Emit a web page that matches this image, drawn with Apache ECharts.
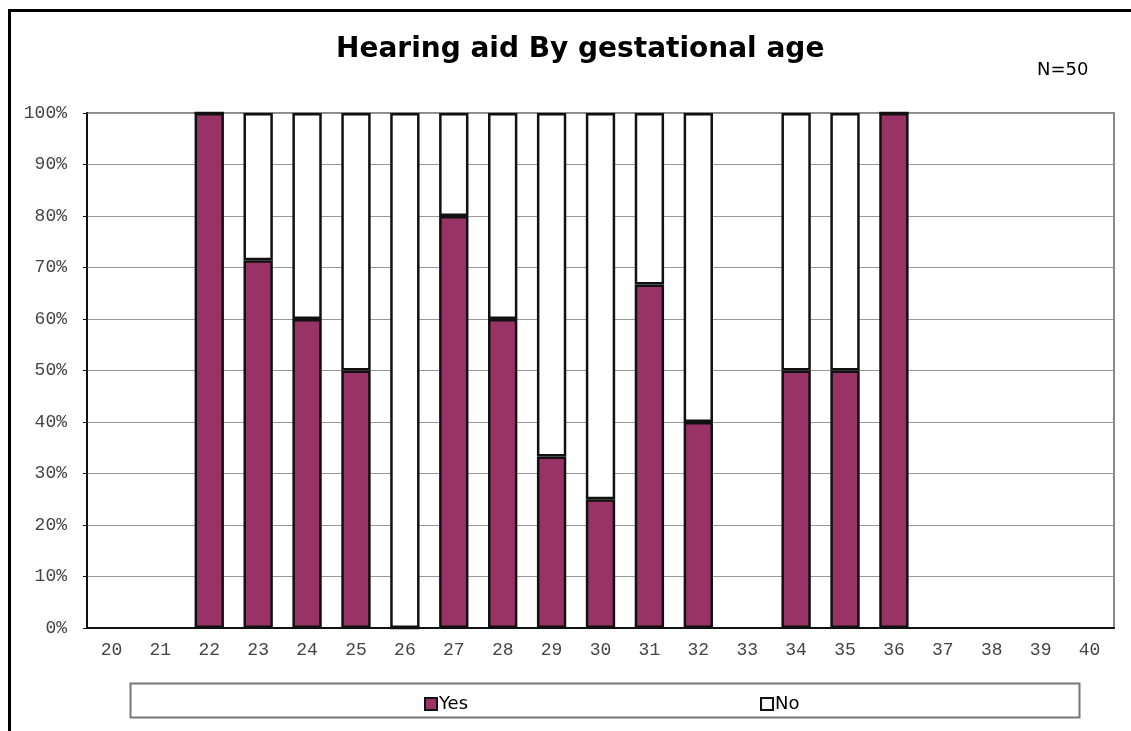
<!DOCTYPE html>
<html>
<head>
    <meta charset="utf-8" />
    <script src="https://cdn.jsdelivr.net/npm/echarts@6/dist/echarts.min.js"></script>
    <style>
        html, body { margin: 0; padding: 0; background: #fff; }
        #chart { width: 1131px; height: 731px; }
    </style>
</head>
<body>
<div id="chart"></div>
<script type="text/javascript">
    // gestational age (weeks)
    var weeks = ['20', '21', '22', '23', '24', '25', '26', '27', '28', '29', '30',
        '31', '32', '33', '34', '35', '36', '37', '38', '39', '40'];
    // percent with hearing aid
    var yesPct = [null, null, 100, 71.4, 60, 50, 0, 80, 60, 33.3, 25,
        66.7, 40, null, 50, 50, 100, null, null, null, null];
    // percent without
    var noPct = [null, null, 0, 28.6, 40, 50, 100, 20, 40, 66.7, 75,
        33.3, 60, null, 50, 50, 0, null, null, null, null];
    var yTicks = [0, 10, 20, 30, 40, 50, 60, 70, 80, 90, 100];

    var monoFont = '"Liberation Mono", "DejaVu Sans Mono", monospace';
    var sansFont = '"DejaVu Sans", Verdana, sans-serif';

    var chart = echarts.init(document.getElementById('chart'));
    var option = {
        animation: false,
        title: {
            text: 'Hearing aid By gestational age',
            left: 331,
            top: 31,
            textStyle: {
                fontFamily: sansFont,
                fontWeight: 'bold',
                fontSize: 28,
                color: '#000'
            }
        },
        legend: [
            {
                data: ['Yes'],
                left: 419,
                top: 690,
                itemWidth: 12,
                itemHeight: 12,
                itemGap: 4,
                icon: 'rect',
                textStyle: { fontFamily: sansFont, fontSize: 18, color: '#000', padding: [0, 0, 0, -3] }
            },
            {
                data: ['No'],
                left: 755,
                top: 690,
                itemWidth: 12,
                itemHeight: 12,
                icon: 'rect',
                textStyle: { fontFamily: sansFont, fontSize: 18, color: '#000', padding: [0, 0, 0, -3] }
            }
        ],
        grid: {
            left: 87,
            right: 17,
            top: 113,
            bottom: 103,
            show: true,
            borderColor: '#888',
            borderWidth: 2
        },
        xAxis: {
            type: 'category',
            data: weeks,
            axisLine: { lineStyle: { color: '#111', width: 2 } },
            axisTick: { inside: true, length: 5, interval: 0, lineStyle: { color: '#111' } },
            axisLabel: {
                interval: 0,
                margin: 13,
                fontFamily: monoFont,
                fontSize: 18,
                color: '#444'
            }
        },
        yAxis: {
            type: 'value',
            min: yTicks[0],
            max: yTicks[yTicks.length - 1],
            interval: 10,
            axisLine: { show: true, lineStyle: { color: '#111', width: 2 } },
            axisTick: { show: true, length: 4, lineStyle: { color: '#111' } },
            splitLine: { lineStyle: { color: '#999', width: 1 } },
            axisLabel: {
                margin: 20,
                formatter: '{value}%',
                fontFamily: monoFont,
                fontSize: 18,
                color: '#444'
            }
        },
        series: [
            {
                name: 'Yes',
                type: 'bar',
                stack: 'total',
                barWidth: '60%',
                data: yesPct,
                itemStyle: { color: '#993366', borderColor: '#111', borderWidth: 2.5 }
            },
            {
                name: 'No',
                type: 'bar',
                stack: 'total',
                barWidth: '60%',
                data: noPct,
                itemStyle: { color: '#fff', borderColor: '#111', borderWidth: 2.5 }
            }
        ],
        graphic: [
            {
                type: 'polyline',
                shape: { points: [[9.5, 731], [9.5, 10.5], [1131, 10.5]] },
                style: { stroke: '#000', lineWidth: 3, fill: null }
            },
            {
                type: 'rect',
                shape: { x: 130.5, y: 683.5, width: 949, height: 34 },
                style: { stroke: '#777', lineWidth: 2, fill: null },
                z: -1
            },
            {
                type: 'text',
                left: 1037,
                top: 61,
                style: { text: 'N=50', font: '18px ' + sansFont, fill: '#000' }
            }
        ]
    };
    chart.setOption(option);
</script>
</body>
</html>
